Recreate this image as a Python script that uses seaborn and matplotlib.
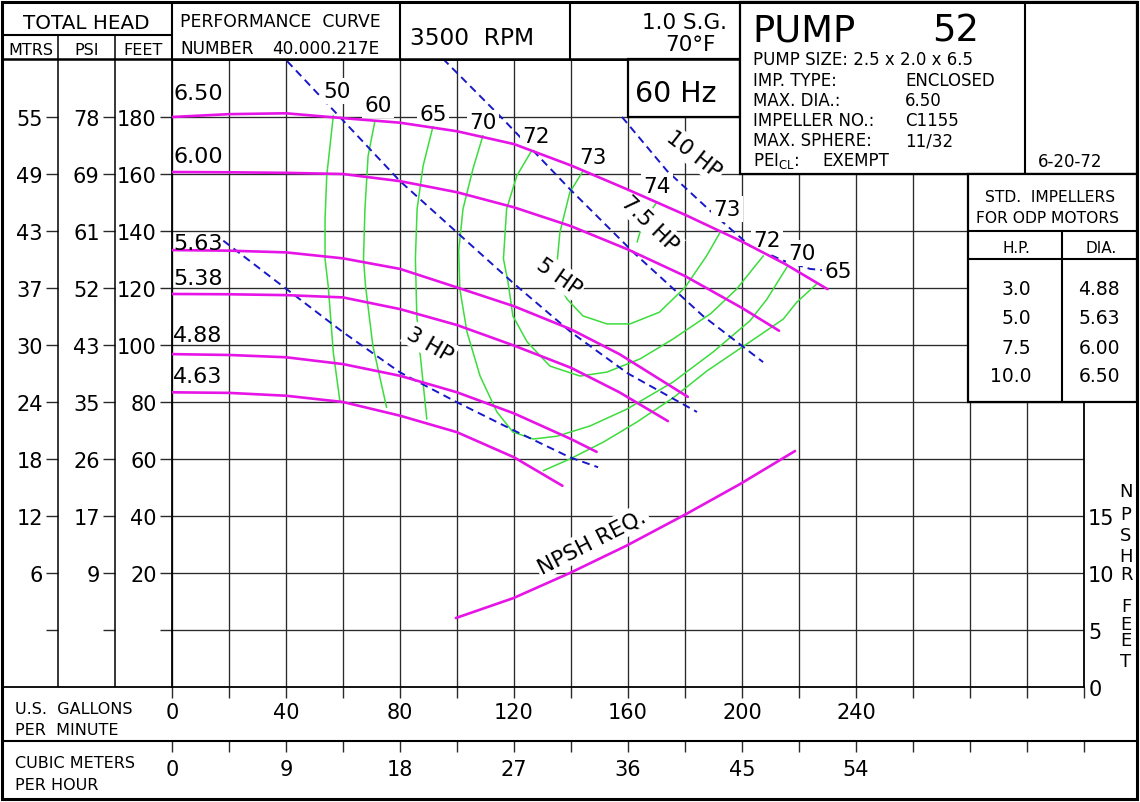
import matplotlib
matplotlib.use("Agg")
import matplotlib.pyplot as plt
import seaborn as sns
from matplotlib.ticker import FixedLocator, FixedFormatter, NullLocator
from matplotlib.patches import Rectangle

# ---------------- data ----------------
gpm_ticks = [0, 20, 40, 60, 80, 100, 120, 140, 160, 180, 200, 220, 240, 260, 280, 300, 320]
gpm_labels = ["0", "", "40", "", "80", "", "120", "", "160", "", "200", "", "240", "", "", "", ""]
cmh_labels = ["0", "", "9", "", "18", "", "27", "", "36", "", "45", "", "54", "", "", "", ""]
feet_ticks = [0, 20, 40, 60, 80, 100, 120, 140, 160, 180]
feet_labels = ["", "20", "40", "60", "80", "100", "120", "140", "160", "180"]
psi_labels = ["", "9", "17", "26", "35", "43", "52", "61", "69", "78"]
mtrs_labels = ["", "6", "12", "18", "24", "30", "37", "43", "49", "55"]
npsh_ticks = [0, 5, 10, 15]
npsh_labels = ["0", "5", "10", "15"]

# impeller head curves (gpm, ft)
imp_names = ["6.50", "6.00", "5.63", "5.38", "4.88", "4.63"]
imp650_gpm = [0, 20, 40, 60, 80, 100, 120, 140, 160, 180, 200, 215, 230]
imp650_ft = [180.0, 181.0, 181.3, 179.6, 178.0, 175.0, 170.5, 163.0, 154.5, 145.7, 136.3, 128.5, 119.6]
imp600_gpm = [0, 20, 40, 60, 80, 100, 120, 140, 160, 180, 200, 213]
imp600_ft = [160.7, 160.6, 160.4, 160.0, 157.5, 153.6, 148.3, 141.7, 133.5, 124.2, 113.0, 105.0]
imp563_gpm = [0, 20, 40, 60, 80, 100, 120, 140, 157, 181]
imp563_ft = [133.3, 133.1, 132.5, 130.4, 126.7, 120.2, 113.6, 105.5, 96.8, 81.8]
imp538_gpm = [0, 20, 40, 60, 80, 100, 120, 140, 157, 174]
imp538_ft = [117.9, 117.8, 117.5, 116.7, 112.6, 107.0, 99.8, 92.0, 83.4, 73.3]
imp488_gpm = [0, 20, 40, 60, 80, 100, 120, 140, 149]
imp488_ft = [96.8, 96.5, 95.7, 93.3, 89.2, 83.4, 76.0, 67.0, 62.5]
imp463_gpm = [0, 20, 40, 60, 80, 100, 120, 137]
imp463_ft = [83.4, 83.2, 82.2, 80.0, 75.2, 69.4, 60.6, 50.6]
imp_label_ft = [186.3, 164.2, 133.7, 121.4, 101.4, 87.0]

# NPSH required (gpm, ft of NPSH)
npsh_gpm = [99.6, 119.8, 139.6, 159.5, 180.6, 199.3, 218.6]
npsh_req = [6.05, 7.8, 10.0, 12.4, 15.2, 17.8, 20.7]

# motor power lines (gpm, ft)
hp3_gpm = [18.0, 40.2, 60.0, 80.0, 100.0, 120.0, 139.6, 149.5]
hp3_ft = [136.6, 119.6, 104.5, 90.4, 79.9, 70.0, 60.6, 57.1]
hp5_gpm = [40.4, 60.0, 80.0, 100.0, 120.0, 140.0, 160.0, 184.2]
hp5_ft = [199.6, 178.8, 157.5, 139.5, 121.5, 104.5, 90.0, 76.5]
hp75_gpm = [95.1, 116.1, 139.6, 161.8, 186.3, 207.4]
hp75_ft = [200.4, 179.3, 154.7, 132.6, 110.2, 94.0]
hp10_gpm = [157.9, 173.7, 191.2, 202.8, 214.5, 223.9, 229.7]
hp10_ft = [180.0, 161.1, 144.9, 134.8, 129.6, 126.7, 126.1]
hp_text = ["3 HP", "5 HP", "7.5 HP", "10 HP"]
hp_label_gpm = [90.5, 135.8, 167.7, 183.2]
hp_label_ft = [100.4, 124.2, 142.8, 167.0]
hp_label_rot = [-30, -35, -44, -38]

# efficiency curves (gpm, ft)
eff50_gpm = [56.6, 54.3, 53.7, 53.7, 54.8, 56.6, 58.9]
eff50_ft = [180.5, 159.4, 144.2, 130.2, 120.8, 97.4, 80.4]
eff60_gpm = [71.2, 68.8, 67.7, 67.2, 67.9, 70.5, 75.3]
eff60_ft = [178.6, 166.3, 147.7, 130.2, 120.7, 99.6, 78.1]
eff65_gpm = [91.6, 88.1, 86.0, 85.4, 85.9, 87.0, 89.4]
eff65_ft = [176.8, 162.8, 147.7, 130.2, 110.2, 97.5, 74.0]
eff65r_gpm = [130.3, 139.6, 151.3, 163.0, 175.9, 187.7, 205.3, 214.5, 219.2, 226.2]
eff65r_ft = [55.9, 60.0, 65.9, 72.9, 81.5, 90.9, 102.8, 109.1, 115.0, 121.4]
eff70_gpm = [109.1, 105.6, 102.1, 100.6, 101.0, 103.5, 108.1, 114.0, 119.6, 126.7, 135.1,
             146.7, 159.6, 175.8, 189.8, 202.8, 208.7, 215.8]
eff70_ft = [173.5, 161.8, 147.7, 133.0, 119.6, 104.6, 89.1, 76.5, 69.5, 67.0, 68.0,
            71.6, 77.5, 87.0, 97.5, 108.5, 116.0, 127.4]
eff72_gpm = [126.2, 121.0, 117.4, 116.3, 117.9, 119.6, 124.6, 132.6, 143.2, 152.6, 164.2,
             175.8, 189.0, 198.0, 207.5]
eff72_ft = [168.2, 159.4, 147.7, 130.2, 122.1, 110.2, 101.1, 92.6, 89.1, 90.5, 95.1,
            102.1, 111.0, 119.5, 131.3]
eff73_gpm = [144.3, 139.6, 136.1, 135.0, 136.0, 138.6, 144.2, 152.6, 160.7, 171.0, 180.0, 187.6, 192.3]
eff73_ft = [161.2, 153.6, 139.5, 127.8, 121.0, 116.1, 110.2, 107.4, 107.4, 111.5, 120.2, 131.3, 139.5]
eff74_gpm = [170.2, 167.7, 164.2, 163.2]
eff74_ft = [150.2, 146.7, 139.6, 136.1]
eff_text = ["50", "60", "65", "70", "72", "73", "74", "73", "72", "70", "65"]
eff_label_gpm = [57.9, 72.3, 91.6, 109.1, 127.7, 147.7, 170.2, 194.7, 208.8, 221.0, 233.7]
eff_label_ft = [189.1, 184.2, 181.1, 178.2, 173.3, 166.0, 155.8, 147.7, 136.8, 132.3, 126.0]

# ---------------- styling ----------------
sns.set_theme(style="white")
plt.rcParams["font.family"] = ["DejaVu Sans"]

W, H = 1140, 803
fig = plt.figure(figsize=(W / 100, H / 100), dpi=100)
fig.patch.set_facecolor("white")


def rect(x0, y0, x1, y1):
    return [x0 / W, 1 - y1 / H, (x1 - x0) / W, (y1 - y0) / H]


GRID = "#2a2a2a"
MAG = "#e614e6"
GRN = "#3cdc3c"
BLU = "#1818c8"
TICK_FS = 15

# ---------------- main axes ----------------
ax = fig.add_axes(rect(172, 61, 1084, 688))
ax.set_facecolor("white")

for gx, fy in [(imp650_gpm, imp650_ft), (imp600_gpm, imp600_ft), (imp563_gpm, imp563_ft),
               (imp538_gpm, imp538_ft), (imp488_gpm, imp488_ft), (imp463_gpm, imp463_ft)]:
    sns.lineplot(x=gx, y=fy, ax=ax, color=MAG, lw=1.9, sort=False, estimator=None, zorder=3)

for gx, fy in [(eff50_gpm, eff50_ft), (eff60_gpm, eff60_ft), (eff65_gpm, eff65_ft),
               (eff65r_gpm, eff65r_ft), (eff70_gpm, eff70_ft), (eff72_gpm, eff72_ft),
               (eff73_gpm, eff73_ft), (eff74_gpm, eff74_ft)]:
    sns.lineplot(x=gx, y=fy, ax=ax, color=GRN, lw=1.1, sort=False, estimator=None, zorder=2.4)

for gx, fy in [(hp3_gpm, hp3_ft), (hp5_gpm, hp5_ft), (hp75_gpm, hp75_ft), (hp10_gpm, hp10_ft)]:
    sns.lineplot(x=gx, y=fy, ax=ax, color=BLU, lw=1.4, sort=False, estimator=None,
                 linestyle=(0, (4, 2.6)), zorder=2.5)

ax.set_xlim(0, 320)
ax.set_ylim(-20, 200)
ax.set_xlabel("")
ax.set_ylabel("")
ax.xaxis.set_major_locator(FixedLocator(gpm_ticks))
ax.xaxis.set_major_formatter(FixedFormatter(gpm_labels))
ax.yaxis.set_major_locator(FixedLocator(feet_ticks))
ax.yaxis.set_major_formatter(FixedFormatter(feet_labels))
ax.grid(True, color=GRID, lw=0.95)
ax.set_axisbelow(True)
for s in ax.spines.values():
    s.set_color("black")
    s.set_linewidth(1.3)
ax.tick_params(axis="x", bottom=True, direction="out", length=8, width=1, color=GRID,
               labelsize=TICK_FS, pad=3, labelcolor="black")
ax.tick_params(axis="y", left=True, direction="out", length=9, width=1, color=GRID,
               labelsize=TICK_FS, pad=2, labelcolor="black")

lbl_box = dict(boxstyle="square,pad=0.12", fc="white", ec="none")
for name, fy in zip(imp_names, imp_label_ft):
    ax.text(0.4, fy, name, ha="left", va="baseline", fontsize=16, color="black", zorder=6)
for t, gx, fy in zip(eff_text, eff_label_gpm, eff_label_ft):
    ax.text(gx, fy, t, ha="center", va="center", fontsize=15.5, color="black",
            bbox=lbl_box, zorder=2.7)
for t, gx, fy, r in zip(hp_text, hp_label_gpm, hp_label_ft, hp_label_rot):
    ax.text(gx, fy, t, ha="center", va="center", fontsize=15.5, rotation=r,
            rotation_mode="anchor", color="black", bbox=lbl_box, zorder=2.7)
ax.text(147.4, 31.2, "NPSH REQ.", ha="center", va="center", fontsize=15.5, rotation=27,
        rotation_mode="anchor", color="black", bbox=lbl_box, zorder=2.7)

# NPSH axis on the right
axn = ax.twinx()
sns.lineplot(x=npsh_gpm, y=npsh_req, ax=axn, color=MAG, lw=1.9, sort=False, estimator=None, zorder=3)
axn.set_xlim(0, 320)
axn.set_ylim(0, 55)
axn.set_xlabel("")
axn.set_ylabel("")
axn.grid(False)
axn.yaxis.set_major_locator(FixedLocator(npsh_ticks))
axn.yaxis.set_major_formatter(FixedFormatter(npsh_labels))
axn.tick_params(axis="y", right=True, length=0, pad=3, labelsize=TICK_FS, labelcolor="black")
for s in axn.spines.values():
    s.set_visible(False)

# PSI and MTRS columns
for x0, x1, labs in [(115, 172, psi_labels), (58, 115, mtrs_labels)]:
    a = fig.add_axes(rect(x0, 61, x1, 688))
    a.set_ylim(-20, 200)
    a.set_xlim(0, 1)
    a.patch.set_visible(False)
    for s in a.spines.values():
        s.set_visible(False)
    a.grid(False)
    a.xaxis.set_major_locator(NullLocator())
    a.yaxis.set_major_locator(FixedLocator(feet_ticks))
    a.yaxis.set_major_formatter(FixedFormatter(labs))
    a.tick_params(axis="y", left=True, direction="out", length=9, width=1, color=GRID,
                  labelsize=TICK_FS, pad=2, labelcolor="black")

# cubic meters row
c = fig.add_axes(rect(172, 688, 1084, 742))
c.set_xlim(0, 320)
c.set_ylim(0, 1)
c.patch.set_visible(False)
for s in c.spines.values():
    s.set_visible(False)
c.grid(False)
c.yaxis.set_major_locator(NullLocator())
c.xaxis.set_major_locator(FixedLocator(gpm_ticks))
c.xaxis.set_major_formatter(FixedFormatter(cmh_labels))
c.tick_params(axis="x", bottom=True, direction="out", length=8, width=1, color=GRID,
              labelsize=TICK_FS, pad=5, labelcolor="black")

# ---------------- frame / header overlay ----------------
ov = fig.add_axes([0, 0, 1, 1], zorder=10)
ov.set_xlim(0, W)
ov.set_ylim(H, 0)
ov.axis("off")
ov.patch.set_visible(False)

for (x0, y0, w, h) in [(628, 60, 112, 58), (740, 3, 397, 172), (968, 175, 169, 228)]:
    ov.add_patch(Rectangle((x0, y0), w, h, fc="white", ec="black", lw=1.6, zorder=1))


def line(x0, y0, x1, y1, lw=1.5):
    ov.plot([x0, x1], [y0, y1], color="black", lw=lw, solid_capstyle="butt", zorder=2)


line(2, 36, 172, 36)
line(2, 60, 740, 60, 1.8)
line(58, 36, 58, 688, 1.1)
line(115, 36, 115, 688, 1.1)
line(172, 3, 172, 61, 1.5)
line(400, 3, 400, 60)
line(570, 3, 570, 60)
line(1025, 3, 1025, 175)
line(968, 232, 1137, 232)
line(968, 260, 1137, 260)
line(1062, 232, 1062, 403)
line(2, 688, 172, 688, 1.3)
line(2, 742, 1137, 742, 1.5)
ov.add_patch(Rectangle((2, 3), 1135, 797, fc="none", ec="black", lw=2.2, zorder=3))

T = dict(color="black", va="baseline")
ov.text(86, 29, "TOTAL HEAD", ha="center", fontsize=14.3, **T)
ov.text(31, 55, "MTRS", ha="center", fontsize=11.5, **T)
ov.text(87, 55, "PSI", ha="center", fontsize=11.5, **T)
ov.text(143, 55, "FEET", ha="center", fontsize=11.5, **T)
ov.text(180, 27, "PERFORMANCE  CURVE", ha="left", fontsize=12.4, **T)
ov.text(180, 54, "NUMBER", ha="left", fontsize=12.2, **T)
ov.text(272, 54, "40.000.217E", ha="left", fontsize=12.2, **T)
ov.text(410, 45, "3500  RPM", ha="left", fontsize=16.8, **T)
ov.text(727, 29, "1.0 S.G.", ha="right", fontsize=15.5, **T)
ov.text(716, 51, "70°F", ha="right", fontsize=15.5, **T)
ov.text(676, 102, "60 Hz", ha="center", fontsize=20.5, **T)
ov.text(752, 42, "PUMP", ha="left", fontsize=26.5, **T)
ov.text(979, 42, "52", ha="right", fontsize=26.5, **T)

info_keys = ["PUMP SIZE: 2.5 x 2.0 x 6.5", "IMP. TYPE:", "MAX. DIA.:", "IMPELLER NO.:",
             "MAX. SPHERE:", "PEI$_{\\mathregular{CL}}$:"]
info_vals = ["", "ENCLOSED", "6.50", "C1155", "11/32", ""]
info_base = [65, 86, 106, 126, 146, 166]
for k, v, yb in zip(info_keys, info_vals, info_base):
    ov.text(753, yb, k, ha="left", fontsize=12, **T)
    if v:
        ov.text(905, yb, v, ha="left", fontsize=12, **T)
ov.text(822, 166, "EXEMPT", ha="left", fontsize=12, **T)
ov.text(1070, 167, "6-20-72", ha="center", fontsize=12, **T)

ov.text(1050, 202, "STD.  IMPELLERS", ha="center", fontsize=11.2, **T)
ov.text(1047, 223, "FOR ODP MOTORS", ha="center", fontsize=11.2, **T)
ov.text(1016, 253, "H.P.", ha="center", fontsize=11, **T)
ov.text(1101, 253, "DIA.", ha="center", fontsize=11, **T)
std_hp = ["3.0", "5.0", "7.5", "10.0"]
std_dia = ["4.88", "5.63", "6.00", "6.50"]
std_base = [295, 324, 354, 382]
for hp, dia, yb in zip(std_hp, std_dia, std_base):
    ov.text(1031, yb, hp, ha="right", fontsize=13.5, **T)
    ov.text(1120, yb, dia, ha="right", fontsize=13.5, **T)

ov.text(15, 714, "U.S.  GALLONS", ha="left", fontsize=11.5, **T)
ov.text(15, 735, "PER  MINUTE", ha="left", fontsize=11.5, **T)
ov.text(15, 768, "CUBIC METERS", ha="left", fontsize=11.5, **T)
ov.text(15, 790, "PER HOUR", ha="left", fontsize=11.5, **T)

for ch, yc in zip("NPSHRFEET", [492, 515, 536, 557, 575, 607, 625, 641, 662]):
    ov.text(1126, yc, ch, ha="center", va="center", fontsize=13, color="black")

fig.savefig("out.png", dpi=100)
